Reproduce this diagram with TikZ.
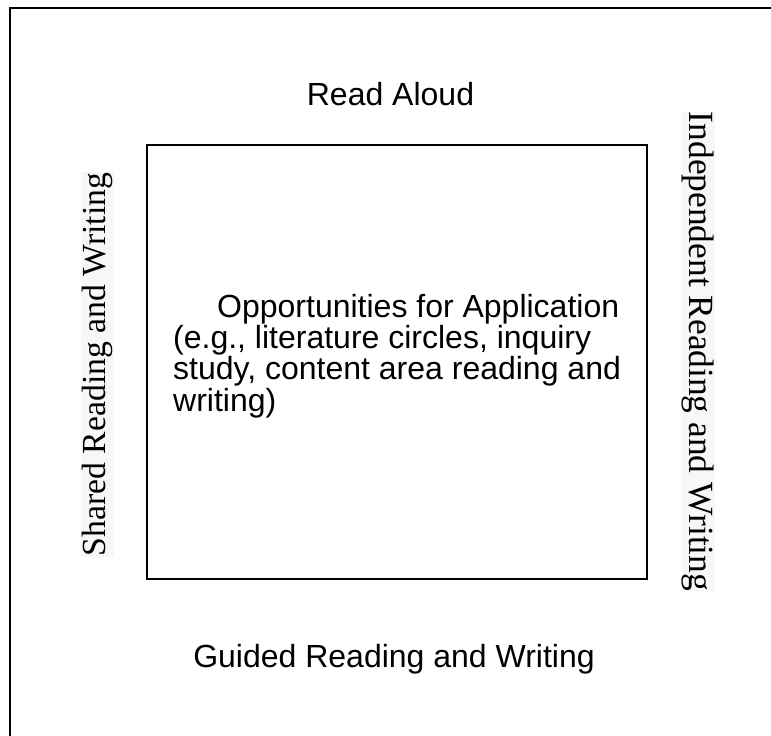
\documentclass[tikz,border=0pt]{standalone}
\usepackage{fontspec}
\setmainfont{Liberation Sans}
\newfontfamily\sidefont{Liberation Serif}
\begin{document}
\begin{tikzpicture}
[x=1pt,y=-1pt,
  boxdecorate/.style={draw,line width=2pt},%
  labeldecorate/.style={inner sep=0pt,anchor=base,font=\fontsize{32}{31.3}\selectfont},%
  sidedecorate/.style={inner sep=0pt,fill=black!3,minimum height=33pt,font=\sidefont}]
\useasboundingbox (0,0) rectangle (771,736);
\clip (0,0) rectangle (771,736);
%% frames
\draw [boxdecorate] (10,8) rectangle (790,760);
\node (centre) [boxdecorate,inner sep=0pt,minimum width=500pt,minimum height=434pt] at (397,362) {};
%% labels round the centre box
\node (aloud) [labeldecorate] at (390.5,105) {Read Aloud};
\node (guided) [labeldecorate] at (394,667) {Guided Reading and Writing};
\node (shared) [sidedecorate,rotate=90,minimum width=385pt] at (97,364.5)
  {\fontsize{33.7}{40}\selectfont Shared Reading and Writing};
\node (independent) [sidedecorate,rotate=-90,minimum width=463pt] at (698,351.5)
  {\fontsize{35.4}{40}\selectfont Independent Reading and Writing};
%% text inside the centre box (base is the last line)
\node (application) [labeldecorate,anchor=base west,align=left] at (173,411)
  {\hspace*{44pt}Opportunities for Application\\
   (e.g., literature circles, inquiry\\
   study, content area reading and\\
   writing)};
\end{tikzpicture}
\end{document}
